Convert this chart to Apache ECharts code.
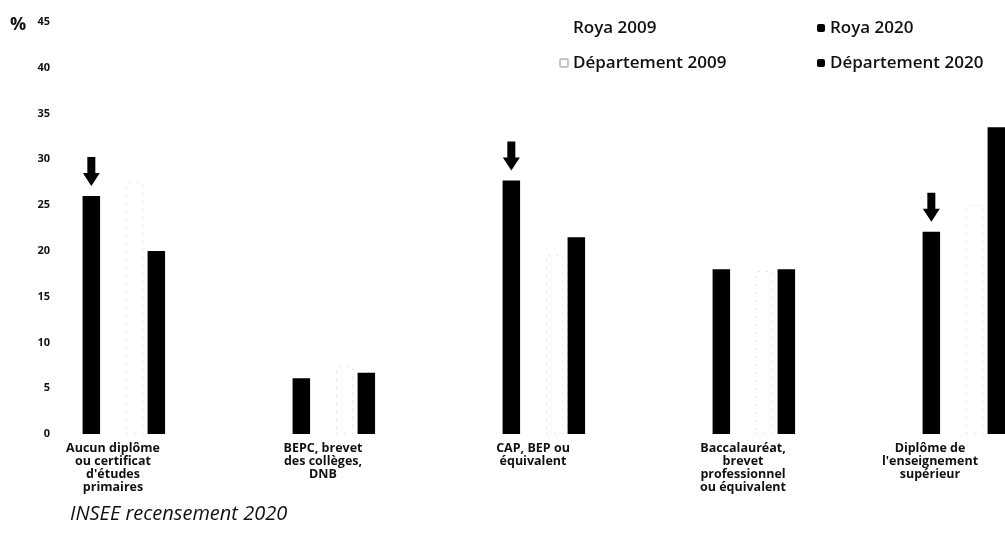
<!DOCTYPE html>
<html>
<head>
<meta charset="utf-8">
<style>
  html, body { margin: 0; padding: 0; background: #fff; overflow: hidden; }
  /* the chart is wider than the page: its last bar runs off the right edge */
  #chart { width: 1058px; height: 547px; }
</style>
<script src="https://cdn.jsdelivr.net/npm/echarts@6/dist/echarts.min.js"></script>
</head>
<body>
<div id="chart"></div>
<script>
// Niveau de diplôme de la population non scolarisée de 15 ans ou plus (%)
const categories = [
  "Aucun diplôme\nou certificat\nd'études\nprimaires",
  "BEPC, brevet\ndes collèges,\nDNB",
  "CAP, BEP ou\néquivalent",
  "Baccalauréat,\nbrevet\nprofessionnel\nou équivalent",
  "Diplôme de\nl'enseignement\nsupérieur"
];
const roya2009 = [31, 8, 25, 15, 18];
const roya2020 = [26.0, 6.1, 27.7, 18.0, 22.1];
const dept2009 = [27.5, 7.4, 19.6, 17.8, 25.0];
const dept2020 = [20.0, 6.7, 21.5, 18.0, 33.5];
// categories flagged with a downward arrow above the Roya 2020 bar
const arrowIdx = [0, 2, 4];
const yTicks = { min: 0, max: 45, interval: 5 };

const FONT = "'Open Sans', 'Noto Sans', sans-serif";
const INK = '#111';

const chart = echarts.init(document.getElementById('chart'), null, { renderer: 'canvas' });

const arrowPath = 'path://M4.5,0 L12.5,0 L12.5,16 L17,16 L8.5,29 L0,16 L4.5,16 Z';

const barBase = { type: 'bar', barWidth: 17.5, barGap: '23.8%' };
const legendText = { fontFamily: FONT, fontSize: 17, fontWeight: 600, color: INK, lineHeight: 20 };

// the last label is pulled left so it stays inside the page
const categoryItems = categories.map((c, i) =>
  i === categories.length - 1
    ? { value: c, textStyle: { padding: [0, 46, 0, 0] } }
    : c
);

chart.setOption({
  animation: false,
  backgroundColor: '#fff',
  textStyle: { fontFamily: FONT, color: INK },
  title: [
    {
      text: '%', left: 5, top: 11,
      textStyle: { fontFamily: FONT, fontSize: 18, fontWeight: 'bold', color: INK }
    },
    {
      text: 'INSEE recensement 2020', left: 65, top: 499,
      textStyle: { fontFamily: FONT, fontSize: 20, fontWeight: 'normal', fontStyle: 'italic', color: INK }
    }
  ],
  legend: [
    {
      orient: 'vertical', left: 554, top: 13,
      itemWidth: 8, itemHeight: 8, itemGap: 15,
      data: ['Roya 2009', 'Département 2009'],
      textStyle: legendText,
      selectedMode: false
    },
    {
      orient: 'vertical', left: 812, top: 13,
      itemWidth: 8, itemHeight: 8, itemGap: 15,
      data: ['Roya 2020', 'Département 2020'],
      textStyle: legendText,
      selectedMode: false
    }
  ],
  grid: { left: 8, right: 0, top: 22, bottom: 113, containLabel: false },
  xAxis: {
    type: 'category',
    data: categoryItems,
    axisLine: { show: false },
    axisTick: { show: false },
    axisLabel: {
      interval: 0, margin: 8,
      fontFamily: FONT, fontSize: 12.5, fontWeight: 'bold', lineHeight: 13, color: INK
    }
  },
  yAxis: {
    type: 'value',
    min: yTicks.min, max: yTicks.max, interval: yTicks.interval,
    offset: -50,
    axisLine: { show: false },
    axisTick: { show: false },
    splitLine: { show: false },
    axisLabel: { margin: 8, fontFamily: FONT, fontSize: 11, fontWeight: 'bold', color: INK }
  },
  series: [
    Object.assign({}, barBase, {
      name: 'Roya 2009', data: roya2009,
      itemStyle: { color: '#fff' }
    }),
    Object.assign({}, barBase, {
      name: 'Roya 2020', data: roya2020,
      itemStyle: { color: '#000' },
      markPoint: {
        symbol: arrowPath,
        symbolSize: [17, 29],
        symbolOffset: [0, -24.5],
        itemStyle: { color: '#000' },
        label: { show: false },
        silent: true,
        data: arrowIdx.map(i => ({ coord: [i, roya2020[i]] }))
      }
    }),
    // empty slot separating the Roya and département pairs
    Object.assign({}, barBase, {
      name: 'séparation', data: categories.map(() => '-'),
      itemStyle: { color: 'transparent' }, silent: true
    }),
    Object.assign({}, barBase, {
      name: 'Département 2009', data: dept2009,
      itemStyle: { color: '#fff', borderColor: '#c4c4c4', borderWidth: 1, borderType: [1, 7] }
    }),
    Object.assign({}, barBase, {
      name: 'Département 2020', data: dept2020,
      itemStyle: { color: '#000' }
    })
  ]
});
</script>
</body>
</html>
